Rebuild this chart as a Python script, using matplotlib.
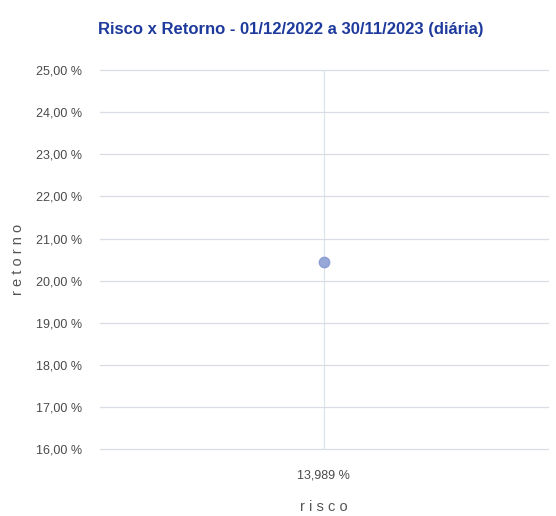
import matplotlib.pyplot as plt
import numpy as np

risco = [13.989]
retorno = [20.44]
y_ticks = np.arange(16, 26, 1)

FONT = ['Liberation Sans', 'DejaVu Sans']

fig = plt.figure(figsize=(5.56, 5.16), dpi=100)
ax = fig.add_axes([0.18, 0.13, 0.805, 0.734])

ax.scatter(risco, retorno, s=55, color='#97a8d8', edgecolors='#8a9dd2', zorder=3)

ax.set_ylim(16, 25)
ax.set_xlim(risco[0] - 1, risco[0] + 1)
ax.set_yticks(y_ticks)
ax.set_yticklabels([f'{v:.2f}'.replace('.', ',') + ' %' for v in y_ticks],
                   family=FONT, fontsize=9, color='#4a4a4a')
ax.set_xticks(risco)
ax.set_xticklabels([f'{v:.3f}'.replace('.', ',') + ' %' for v in risco],
                   family=FONT, fontsize=9, color='#4a4a4a')

ax.grid(axis='y', color='#d8dde6', linewidth=0.9)
for line in ax.get_ygridlines():
    line.set_clip_on(False)
ax.axvline(risco[0], color='#dfe3ea', linewidth=0.9, zorder=1)
for s in ax.spines.values():
    s.set_visible(False)
ax.tick_params(axis='y', length=0, pad=13)
ax.tick_params(axis='x', length=0, pad=15)

ax.set_xlabel('r i s c o', family=FONT, fontsize=10.5, color='#555555', labelpad=13)
ax.set_ylabel('r e t o r n o', family=FONT, fontsize=10.5, color='#555555', labelpad=8)

fig.suptitle('Risco x Retorno - 01/12/2022 a 30/11/2023 (diária)', x=0.523, y=0.942,
             va='center', family=FONT, fontsize=12, fontweight='bold', color='#1e3a9c')

fig.savefig('out.png', dpi=100)
